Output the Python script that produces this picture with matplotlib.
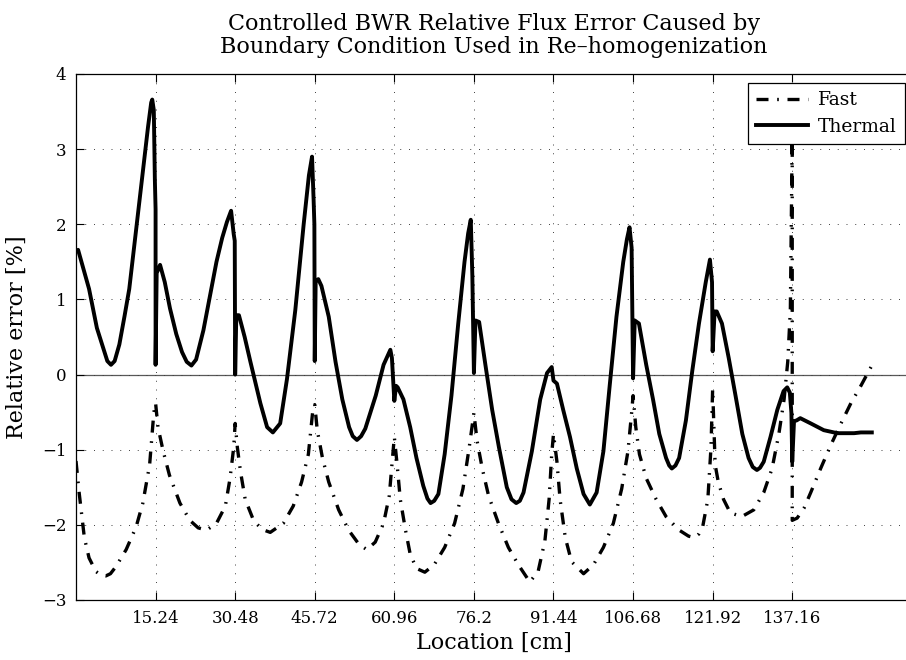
import numpy as np
import matplotlib
matplotlib.use('Agg')
import matplotlib.pyplot as plt

# ---- data (location in cm, relative error in %) ----
thermal_x = [0.0, 0.4, 2.5, 4.0, 5.1, 6.0, 6.7, 7.4, 8.3, 9.3, 10.2, 11.5, 12.8, 13.8,
             14.4, 14.6, 14.9, 15.1, 15.24, 15.24, 15.45, 16.1, 17.0, 18.0, 19.2, 20.3,
             21.2, 22.1, 23.0, 24.4, 25.6, 26.9, 28.0, 28.9, 29.7, 30.2, 30.4, 30.48,
             30.7, 31.2, 32.3, 33.4, 35.3, 36.6, 37.7, 39.1, 40.4, 42.0, 43.6, 44.6,
             45.2, 45.5, 45.65, 45.72, 45.9, 46.4, 47.0, 48.4, 49.7, 51.0, 52.3, 53.0,
             53.8, 54.6, 55.4, 57.4, 58.9, 60.2, 60.5, 60.96, 61.3, 61.6, 62.7, 64.0,
             65.2, 66.5, 67.3, 67.9, 68.6, 69.4, 70.6, 71.9, 73.2, 74.4, 75.1, 75.6,
             75.9, 76.2, 76.5, 77.2, 78.4, 79.7, 81.0, 82.5, 83.4, 84.3, 85.0, 85.7,
             87.3, 88.9, 90.2, 91.1, 91.44, 92.1, 93.3, 94.6, 95.9, 97.2, 98.4, 99.7,
             101.0, 102.2, 103.5, 104.8, 105.5, 106.0, 106.4, 106.68, 107.0, 107.8,
             109.2, 110.5, 111.7, 113.0, 113.6, 114.1, 114.8, 115.5, 116.8, 118.0,
             119.3, 120.6, 121.4, 121.8, 121.92, 122.3, 122.7, 123.7, 125.0, 126.3,
             127.6, 128.8, 129.6, 130.4, 131.0, 131.7, 133.0, 134.3, 135.5, 136.2,
             136.7, 137.0, 137.16, 137.5, 138.0, 138.7, 140.7, 143.2, 145.8, 149.0,
             150.3, 152.4]
thermal_y = [1.64, 1.66, 1.14, 0.62, 0.38, 0.18, 0.13, 0.18, 0.40, 0.78, 1.14, 1.92, 2.70, 3.30,
             3.62, 3.66, 3.52, 2.60, 2.20, 0.13, 1.35, 1.46, 1.23, 0.88, 0.54, 0.30,
             0.17, 0.12, 0.20, 0.59, 1.03, 1.50, 1.82, 2.03, 2.18, 1.87, 1.78, 0.0,
             0.79, 0.79, 0.50, 0.17, -0.38, -0.70, -0.77, -0.65, -0.06, 0.86, 2.00, 2.65,
             2.90, 2.33, 2.00, 0.18, 1.25, 1.27, 1.18, 0.77, 0.17, -0.33, -0.70, -0.82,
             -0.87, -0.82, -0.72, -0.28, 0.13, 0.33, 0.22, -0.35, -0.15, -0.17, -0.33, -0.70,
             -1.11, -1.48, -1.65, -1.71, -1.68, -1.59, -1.06, -0.28, 0.68, 1.50, 1.88, 2.06,
             1.32, 0.02, 0.72, 0.70, 0.13, -0.47, -0.97, -1.50, -1.66, -1.71, -1.68, -1.57,
             -1.02, -0.33, 0.02, 0.10, -0.08, -0.12, -0.47, -0.83, -1.25, -1.59, -1.73, -1.57,
             -1.02, -0.15, 0.77, 1.50, 1.80, 1.96, 1.69, -0.05, 0.72, 0.68,
             0.13, -0.33, -0.79, -1.11, -1.21, -1.25, -1.21, -1.11, -0.61, 0.04,
             0.68, 1.23, 1.53, 1.23, 0.31, 0.84, 0.84, 0.68, 0.22, -0.28,
             -0.79, -1.11, -1.23, -1.27, -1.24, -1.16, -0.83, -0.47, -0.22, -0.17,
             -0.24, -0.51, -1.16, -0.62, -0.61, -0.58, -0.65, -0.74, -0.78, -0.78,
             -0.77, -0.77]

fast_x = [0.0, 0.6, 1.6, 2.5, 3.8, 4.8, 5.7, 6.6, 7.6, 9.6, 11.5, 12.8, 14.1, 14.9, 15.24,
          15.7, 16.7, 17.9, 19.9, 21.8, 23.4, 25.0, 26.9, 28.6, 29.5, 30.2, 30.48,
          30.9, 31.5, 32.4, 34.0, 35.6, 37.2, 39.7, 41.6, 43.2, 44.5, 45.3, 45.72,
          46.2, 47.2, 48.4, 50.3, 52.2, 54.2, 55.7, 57.3, 58.9, 60.0, 60.5, 60.96,
          61.5, 62.1, 63.1, 64.0, 65.2, 66.8, 68.6, 70.6, 72.5, 74.1, 75.3, 76.2,
          76.8, 77.8, 79.0, 80.9, 82.8, 84.7, 86.9, 88.5, 89.8, 90.6, 91.1, 91.44,
          92.1, 92.7, 93.7, 94.9, 97.2, 99.1, 101.0, 102.9, 104.5, 105.7, 106.4, 106.68,
          107.2, 107.9, 109.2, 111.1, 113.0, 115.5, 117.3, 118.4, 119.3, 120.0, 121.0,
          121.6, 121.92, 122.4, 123.0, 124.0, 125.3, 127.5, 129.8, 131.7, 133.3, 134.6,
          135.6, 136.3, 136.8, 137.16, 137.16, 138.1, 139.4, 140.7, 142.6, 144.6, 146.5,
          148.4, 150.3, 152.4]
fast_y = [-1.15, -1.57, -2.17, -2.44, -2.62, -2.67, -2.68, -2.65, -2.56, -2.33, -2.03, -1.71, -1.20, -0.51, -0.38,
          -0.70, -1.02, -1.34, -1.71, -1.94, -2.04, -2.07, -1.98, -1.75, -1.38, -0.97, -0.65,
          -0.97, -1.29, -1.66, -1.94, -2.06, -2.10, -1.98, -1.75, -1.43, -1.06, -0.51, -0.40,
          -0.74, -1.11, -1.43, -1.80, -2.07, -2.26, -2.33, -2.23, -1.98, -1.61, -1.20, -0.83,
          -1.20, -1.66, -2.07, -2.39, -2.58, -2.63, -2.53, -2.30, -1.98, -1.52, -0.97, -0.51,
          -0.88, -1.25, -1.61, -1.98, -2.30, -2.53, -2.76, -2.62, -2.21, -1.66, -1.06, -0.79,
          -1.16, -1.66, -2.17, -2.49, -2.65, -2.53, -2.30, -1.98, -1.52, -1.02, -0.51, -0.28,
          -0.70, -1.06, -1.38, -1.66, -1.89, -2.07, -2.15, -2.17, -2.12, -2.03, -1.66,
          -0.97, -0.19, -1.20, -1.43, -1.66, -1.84, -1.89, -1.80, -1.57, -1.25, -0.79,
          -0.33, 0.17, 0.86, 3.20, -1.94, -1.91, -1.78, -1.57, -1.25, -0.93, -0.65,
          -0.38, -0.15, 0.12]

xticks = [15.24, 30.48, 45.72, 60.96, 76.2, 91.44, 106.68, 121.92, 137.16]
xticklabels = ['15.24', '30.48', '45.72', '60.96', '76.2', '91.44', '106.68', '121.92', '137.16']
yticks = [-3, -2, -1, 0, 1, 2, 3, 4]

plt.rcParams['font.family'] = ['DejaVu Serif']

W, H = 906, 660
fig = plt.figure(figsize=(W / 100, H / 100), dpi=100)
# axes run a little past the right edge of the picture (clipped like the original)
ax = fig.add_axes([76 / W, 1 - 600 / H, (911.5 - 76) / W, (600 - 74) / H])

ax.axhline(0, color='0.35', lw=0.9, zorder=1)
ax.plot(fast_x, fast_y, color='k', lw=2.4, ls=(0, (3.6, 2.6, 0.5, 2.6)),
        label='Fast', zorder=3)
ax.plot(thermal_x, thermal_y, color='k', lw=2.8, ls='-', label='Thermal', zorder=4,
        solid_joinstyle='round')

ax.set_xlim(0, 160)
ax.set_ylim(-3, 4)
ax.set_xticks(xticks)
ax.set_xticklabels(xticklabels)
ax.set_yticks(yticks)
ax.tick_params(direction='in', length=6, width=0.8, top=True, right=False,
               labelsize=12, pad=7)
ax.grid(True, color='0.25', lw=0.7, ls=(0, (1, 8)))
for s in ax.spines.values():
    s.set_linewidth(0.9)
ax.spines['right'].set_visible(False)

ax.set_xlabel('Location [cm]', fontsize=16, labelpad=4)
ax.set_ylabel('Relative error [%]', fontsize=16, labelpad=10)
ax.set_title('Controlled BWR Relative Flux Error Caused by\n'
             'Boundary Condition Used in Re\u2013homogenization',
             fontsize=16, pad=15, linespacing=1.05)

leg = ax.legend(loc='upper right', bbox_to_anchor=(905 / W, 1 - 83 / H),
                bbox_transform=fig.transFigure, borderaxespad=0, fontsize=13.5,
                handlelength=2.8, fancybox=False, framealpha=1, edgecolor='k',
                labelspacing=0.45, borderpad=0.45, handletextpad=0.5)
leg.get_frame().set_linewidth(0.9)

fig.savefig('out.png', dpi=100)
